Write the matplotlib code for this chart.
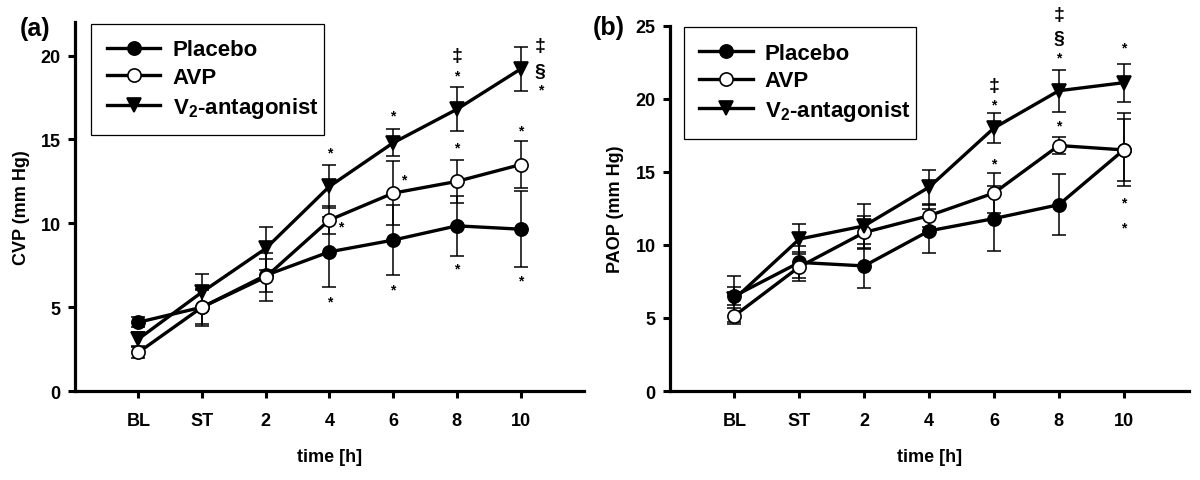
import numpy as np
import matplotlib
matplotlib.use("Agg")
import matplotlib.pyplot as plt

plt.rcParams['font.family'] = ['Liberation Sans', 'DejaVu Sans']
plt.rcParams['font.weight'] = 'bold'
plt.rcParams['mathtext.fontset'] = 'custom'
plt.rcParams['mathtext.rm'] = 'Liberation Sans:bold'
plt.rcParams['mathtext.bf'] = 'Liberation Sans:bold'
plt.rcParams['mathtext.default'] = 'rm'

# time points
times = ['BL', 'ST', '2', '4', '6', '8', '10']

# (a) CVP
cvp_placebo = [4.1, 5.0, 6.9, 8.3, 9.0, 9.85, 9.65]
cvp_placebo_err = [0.3, 1.0, 1.0, 2.1, 2.1, 1.8, 2.25]
cvp_avp = [2.3, 5.0, 6.8, 10.2, 11.8, 12.5, 13.5]
cvp_avp_err = [0.35, 1.1, 1.45, 0.85, 1.9, 1.3, 1.4]
cvp_v2 = [3.1, 5.9, 8.5, 12.2, 14.8, 16.8, 19.2]
cvp_v2_err = [0.4, 1.1, 1.3, 1.3, 0.8, 1.3, 1.3]

# (b) PAOP
paop_placebo = [6.5, 8.8, 8.56, 10.96, 11.8, 12.75, 16.5]
paop_placebo_err = [0.6, 1.1, 1.5, 1.5, 2.2, 2.1, 2.1]
paop_avp = [5.15, 8.5, 10.85, 12.0, 13.55, 16.8, 16.5]
paop_avp_err = [0.55, 1.0, 1.1, 0.8, 1.35, 0.6, 2.5]
paop_v2 = [6.3, 10.4, 11.3, 13.95, 18.0, 20.55, 21.1]
paop_v2_err = [1.6, 1.0, 1.5, 1.2, 1.0, 1.45, 1.3]

# significance marks: (time index, y, symbol, x shift)
cvp_marks = [
    (3, 14.2, '*', 0), (3, 9.8, '*', 0.17), (3, 5.35, '*', 0),
    (4, 16.45, '*', 0), (4, 12.6, '*', 0.17), (4, 6.05, '*', 0),
    (5, 20.0, '‡', 0), (5, 18.8, '*', 0), (5, 14.55, '*', 0), (5, 7.3, '*', 0),
    (6, 15.55, '*', 0), (6, 6.6, '*', 0),
    (6, 20.6, '‡', 0.31), (6, 19.05, '§', 0.31), (6, 18.0, '*', 0.31),
]
paop_marks = [
    (4, 20.9, '‡', 0), (4, 19.6, '*', 0), (4, 15.6, '*', 0),
    (5, 25.8, '‡', 0), (5, 24.1, '§', 0), (5, 22.8, '*', 0), (5, 18.2, '*', 0),
    (6, 23.5, '*', 0), (6, 12.9, '*', 0), (6, 11.2, '*', 0),
]

fig = plt.figure(figsize=(12, 4.81), dpi=100)
ax1 = fig.add_axes([0.0622, 0.185, 0.4247, 0.767])
ax2 = fig.add_axes([0.558, 0.185, 0.4325, 0.7595])

x = np.arange(len(times))


def draw(ax, series, marks, ylim, yticks, ylabel, legend_box):
    styles = [('o', 'black', 'Placebo'), ('o', 'white', 'AVP'),
              ('v', 'black', 'V$_2$-antagonist')]
    for (vals, errs), (mk, fc, lab) in zip(series, styles):
        ax.errorbar(x, vals, yerr=errs, fmt='none', ecolor='black',
                    elinewidth=1.1, capsize=5, capthick=1.1, zorder=2)
    for (vals, errs), (mk, fc, lab) in zip(series, styles):
        ax.plot(x, vals, color='black', lw=2.4, marker=mk, ms=9.5,
                mfc=fc, mec='black', mew=1.2, label=lab, zorder=3)
    for i, yv, s, dx in marks:
        fs = 10 if s == '*' else 14
        ax.text(i + dx, yv, s, ha='center', va='center', fontsize=fs,
                fontweight='bold', clip_on=False)
    ax.set_xlim(-1, 7)
    ax.set_ylim(*ylim)
    ax.set_xticks(x)
    ax.set_xticklabels(times)
    ax.set_yticks(yticks)
    ax.tick_params(direction='out', length=5, width=2.2, labelsize=13, pad=5)
    ax.tick_params(axis='x', pad=10)
    for lab in ax.get_xticklabels() + ax.get_yticklabels():
        lab.set_fontweight('bold')
    for sp in ['top', 'right']:
        ax.spines[sp].set_visible(False)
    for sp in ['left', 'bottom']:
        ax.spines[sp].set_linewidth(2.3)
    ax.set_xlabel('time [h]', fontsize=13, fontweight='bold', labelpad=14)
    ax.set_ylabel(ylabel, fontsize=13, fontweight='bold', labelpad=8)
    leg = ax.legend(loc='upper left', bbox_to_anchor=legend_box,
                    mode='expand', borderaxespad=0, fontsize=16,
                    handlelength=2.4, handletextpad=0.55, labelspacing=0.3,
                    borderpad=0.7, fancybox=False, framealpha=1,
                    edgecolor='black')
    leg.get_frame().set_linewidth(0.9)
    for t in leg.get_texts():
        t.set_fontweight('bold')


draw(ax1, [(cvp_placebo, cvp_placebo_err), (cvp_avp, cvp_avp_err),
           (cvp_v2, cvp_v2_err)], cvp_marks, (0, 22), [0, 5, 10, 15, 20],
     'CVP (mm Hg)', (0.033, 0.995, 0.457, 0.0))
draw(ax2, [(paop_placebo, paop_placebo_err), (paop_avp, paop_avp_err),
           (paop_v2, paop_v2_err)], paop_marks, (0, 25), [0, 5, 10, 15, 20, 25],
     'PAOP (mm Hg)', (0.027, 0.996, 0.447, 0.0))

fig.text(0.029, 0.94, '(a)', fontsize=18, fontweight='bold', ha='center', va='center')
fig.text(0.5075, 0.942, '(b)', fontsize=18, fontweight='bold', ha='center', va='center')

fig.savefig('out.png', dpi=100)
